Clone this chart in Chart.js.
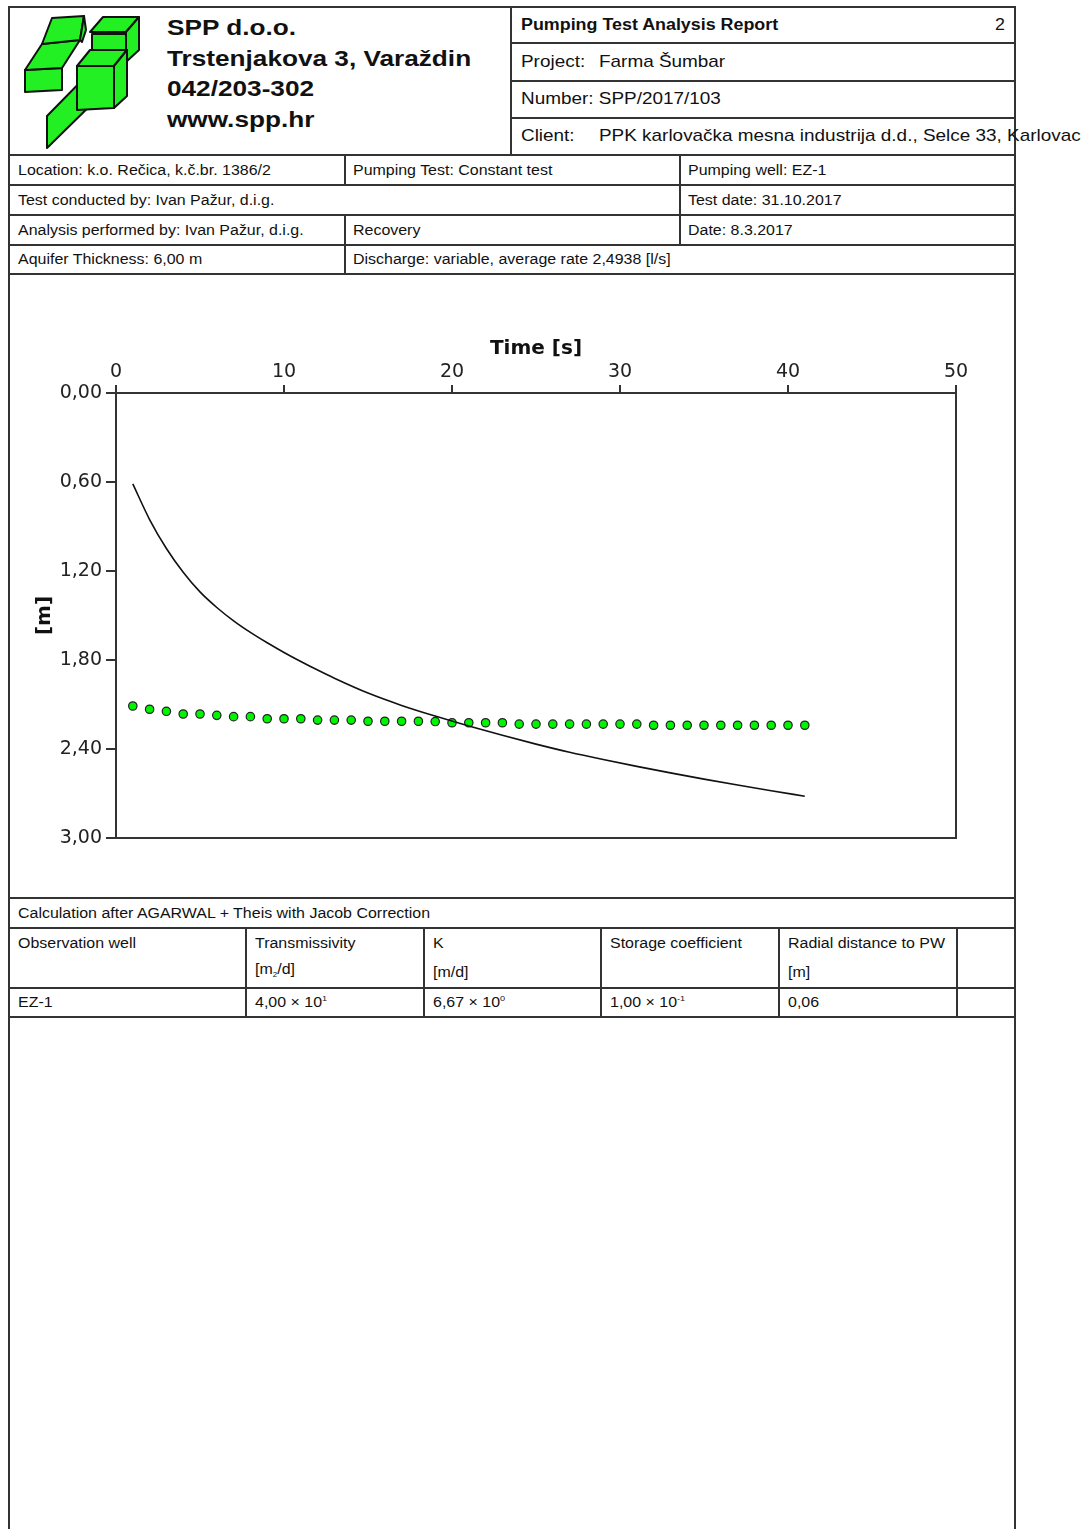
<!DOCTYPE html>
<html><head><meta charset="utf-8">
<script src="https://cdn.jsdelivr.net/npm/chart.js@4.4.1/dist/chart.umd.min.js"></script>
<style>
body{margin:0;background:#fff;font-family:"Liberation Sans",Arial,sans-serif;color:#111;}
#page{position:relative;width:1092px;height:1529px;overflow:hidden;background:#fff;}
.h{position:absolute;height:2px;background:#333;}
.v{position:absolute;width:2px;background:#333;}
.t{position:absolute;white-space:nowrap;font-size:14px;line-height:16px;transform-origin:0 50%;transform:translateY(-50%) scaleX(1.14);}
.hd{position:absolute;white-space:nowrap;font-size:17px;line-height:20px;transform-origin:0 50%;transform:translateY(-50%) scaleX(1.113);}
.logo{position:absolute;white-space:nowrap;font-size:22px;font-weight:bold;line-height:30.5px;left:167px;top:13px;color:#111;transform-origin:0 0;transform:scaleX(1.19);}
sup{font-size:8px;vertical-align:6px;line-height:0;}
#chartBox{position:absolute;left:10px;top:274px;width:1004px;height:623px;}
</style></head>
<body><div id="page">
<!-- frame lines -->
<div class="v" style="left:8px;top:6px;height:1523px"></div>
<div class="v" style="left:1014px;top:6px;height:1523px"></div>
<div class="h" style="left:8px;top:6px;width:1008px"></div>
<div class="v" style="left:510px;top:6px;height:148px"></div>
<div class="h" style="left:510px;top:42px;width:506px"></div>
<div class="h" style="left:510px;top:80px;width:506px"></div>
<div class="h" style="left:510px;top:117px;width:506px"></div>
<div class="h" style="left:8px;top:154px;width:1008px"></div>
<div class="h" style="left:8px;top:184px;width:1008px"></div>
<div class="h" style="left:8px;top:214px;width:1008px"></div>
<div class="h" style="left:8px;top:244px;width:1008px"></div>
<div class="h" style="left:8px;top:273px;width:1008px"></div>
<div class="v" style="left:344px;top:154px;height:31px"></div>
<div class="v" style="left:344px;top:214px;height:60px"></div>
<div class="v" style="left:679px;top:154px;height:91px"></div>
<div class="h" style="left:8px;top:897px;width:1008px"></div>
<div class="h" style="left:8px;top:927px;width:1008px"></div>
<div class="h" style="left:8px;top:987px;width:1008px"></div>
<div class="h" style="left:8px;top:1016px;width:1008px"></div>
<div class="v" style="left:245px;top:927px;height:90px"></div>
<div class="v" style="left:423px;top:927px;height:90px"></div>
<div class="v" style="left:600px;top:927px;height:90px"></div>
<div class="v" style="left:778px;top:927px;height:90px"></div>
<div class="v" style="left:956px;top:927px;height:90px"></div>

<!-- logo -->
<svg style="position:absolute;left:0;top:0" width="160" height="155" viewBox="0 0 160 155">
<g fill="#22f022" stroke="#111" stroke-width="2" stroke-linejoin="round">
<polygon points="25,70 62,68 62,90 25,92"/>
<polygon points="42,44 80,40 62,68 25,70"/>
<polygon points="52,18 84,16 80,40 42,44"/>
<polygon points="84,16 86,30 82,42 80,40"/>
<polygon points="47,116 100,62 100,96 47,148"/>
<polygon points="90,32 103,17 139,17 126,32"/>
<polygon points="126,32 139,17 139,50 126,62"/>
<polygon points="92,34 126,34 126,62 92,62"/>
<polygon points="77,66 90,50 127,50 114,66"/>
<polygon points="114,66 127,50 127,96 114,108"/>
<polygon points="77,66 114,66 114,108 77,110"/>
</g>
</svg>
<div class="logo">SPP d.o.o.<br>Trstenjakova 3, Varaždin<br>042/203-302<br>www.spp.hr</div>

<!-- header right -->
<div class="hd" style="left:521px;top:25px;font-weight:bold;font-size:16px;transform:translateY(-50%) scaleX(1.117)">Pumping Test Analysis Report</div>
<div class="hd" style="left:995px;top:25px;font-size:16px">2</div>
<div class="hd" style="left:521px;top:62px">Project:</div>
<div class="hd" style="left:599px;top:62px">Farma Šumbar</div>
<div class="hd" style="left:521px;top:99px">Number: SPP/2017/103</div>
<div class="hd" style="left:521px;top:136px">Client:</div>
<div class="hd" style="left:599px;top:136px">PPK karlovačka mesna industrija d.d., Selce 33, Karlovac</div>

<!-- info table -->
<div class="t" style="left:18px;top:170px">Location: k.o. Rečica, k.č.br. 1386/2</div>
<div class="t" style="left:353px;top:170px">Pumping Test: Constant test</div>
<div class="t" style="left:688px;top:170px">Pumping well: EZ-1</div>
<div class="t" style="left:18px;top:200px">Test conducted by: Ivan Pažur, d.i.g.</div>
<div class="t" style="left:688px;top:200px">Test date: 31.10.2017</div>
<div class="t" style="left:18px;top:230px">Analysis performed by: Ivan Pažur, d.i.g.</div>
<div class="t" style="left:353px;top:230px">Recovery</div>
<div class="t" style="left:688px;top:230px">Date: 8.3.2017</div>
<div class="t" style="left:18px;top:259px">Aquifer Thickness: 6,00 m</div>
<div class="t" style="left:353px;top:259px">Discharge: variable, average rate 2,4938 [l/s]</div>

<!-- bottom table -->
<div class="t" style="left:18px;top:913px">Calculation after AGARWAL + Theis with Jacob Correction</div>
<div class="t" style="left:18px;top:943px">Observation well</div>
<div class="t" style="left:255px;top:943px">Transmissivity</div>
<div class="t" style="left:433px;top:943px">K</div>
<div class="t" style="left:610px;top:943px">Storage coefficient</div>
<div class="t" style="left:788px;top:943px">Radial distance to PW</div>
<div class="t" style="left:255px;top:972px">[m<span style="font-size:7px;vertical-align:-3px">2</span>/d]</div>
<div class="t" style="left:433px;top:972px">[m/d]</div>
<div class="t" style="left:788px;top:972px">[m]</div>
<div class="t" style="left:18px;top:1002px">EZ-1</div>
<div class="t" style="left:255px;top:1002px">4,00 × 10<sup>1</sup></div>
<div class="t" style="left:433px;top:1002px">6,67 × 10<sup>0</sup></div>
<div class="t" style="left:610px;top:1002px">1,00 × 10<sup>-1</sup></div>
<div class="t" style="left:788px;top:1002px">0,06</div>

<div id="chartBox"><canvas id="c" width="1004" height="623"></canvas></div>
</div>
<script>
// ---- data ----
const obsTime = [1,2,3,4,5,6,7,8,9,10,11,12,13,14,15,16,17,18,19,20,21,22,23,24,25,26,27,28,29,30,31,32,33,34,35,36,37,38,39,40,41];
const obsDrawdown = [2.110,2.132,2.146,2.164,2.164,2.173,2.182,2.182,2.196,2.196,2.196,2.205,2.205,2.205,2.213,2.213,2.213,2.213,2.215,2.223,2.223,2.223,2.223,2.232,2.232,2.232,2.232,2.232,2.232,2.232,2.232,2.240,2.240,2.240,2.240,2.240,2.240,2.240,2.240,2.240,2.240];
const curveTime = [1,2,3,4,5,6,7,8,9,10,11,12,13,15,17,19,21,23,25,27,29,31,33,35,37,39,41];
const curveDrawdown = [0.613,0.853,1.048,1.208,1.341,1.446,1.536,1.614,1.684,1.749,1.810,1.868,1.923,2.023,2.106,2.178,2.245,2.308,2.367,2.422,2.471,2.517,2.561,2.603,2.643,2.681,2.718];
const xTickValues = [0,10,20,30,40,50];
const xTickLabels = ['0','10','20','30','40','50'];
const yTickValues = [0,0.6,1.2,1.8,2.4,3.0];
const yTickLabels = ['0,00','0,60','1,20','1,80','2,40','3,00'];

const toPts = (xs, ys) => xs.map((x, i) => ({x: x, y: ys[i]}));
const tickFont = {family: 'DejaVu Sans', size: 19};
const titleFont = {family: 'DejaVu Sans', size: 20, weight: 'bold'};
const lineCol = '#333';

new Chart(document.getElementById('c'), {
  type: 'scatter',
  data: {
    datasets: [
      {
        label: 'Theis curve',
        data: toPts(curveTime, curveDrawdown),
        showLine: true,
        borderColor: '#111',
        borderWidth: 1.6,
        pointRadius: 0,
        cubicInterpolationMode: 'monotone',
        fill: false
      },
      {
        label: 'EZ-1',
        data: toPts(obsTime, obsDrawdown),
        showLine: false,
        pointRadius: 4.2,
        pointBackgroundColor: '#00f500',
        pointBorderColor: '#222',
        pointBorderWidth: 1.2
      }
    ]
  },
  options: {
    responsive: false,
    animation: false,
    devicePixelRatio: 1,
    layout: {padding: 0},
    plugins: {legend: {display: false}, tooltip: {enabled: false}},
    scales: {
      x: {
        type: 'linear', position: 'top', min: 0, max: 50,
        afterBuildTicks: s => { s.ticks = xTickValues.map(v => ({value: v})); },
        afterFit: s => { s.height = 119; },
        ticks: {font: tickFont, color: '#222', padding: 2, maxRotation: 0,
                callback: (v) => xTickLabels[xTickValues.indexOf(v)]},
        grid: {drawOnChartArea: false, drawTicks: true, tickLength: 8, color: lineCol, lineWidth: 2},
        border: {display: true, color: lineCol, width: 2},
        title: {display: true, text: 'Time [s]', font: titleFont, color: '#111', padding: {top: 63, bottom: 0}}
      },
      y: {
        type: 'linear', position: 'left', min: 0, max: 3, reverse: true,
        afterBuildTicks: s => { s.ticks = yTickValues.map(v => ({value: v})); },
        afterFit: s => { s.width = 106; },
        ticks: {font: tickFont, color: '#222', padding: 4,
                callback: (v) => { const i = yTickValues.findIndex(t => Math.abs(t - v) < 1e-9); return i >= 0 ? yTickLabels[i] : ''; }},
        grid: {drawOnChartArea: false, drawTicks: true, tickLength: 10, color: lineCol, lineWidth: 2},
        border: {display: true, color: lineCol, width: 2},
        title: {display: true, text: '[m]', font: titleFont, color: '#111', padding: {top: 23, bottom: 0}}
      },
      x2: {
        type: 'linear', position: 'bottom', min: 0, max: 50,
        afterFit: s => { s.height = 59; },
        ticks: {display: false},
        grid: {display: false},
        border: {display: true, color: lineCol, width: 2}
      },
      y2: {
        type: 'linear', position: 'right', min: 0, max: 3,
        afterFit: s => { s.width = 58; },
        ticks: {display: false},
        grid: {display: false},
        border: {display: true, color: lineCol, width: 2}
      }
    }
  }
});
</script>
</body></html>
